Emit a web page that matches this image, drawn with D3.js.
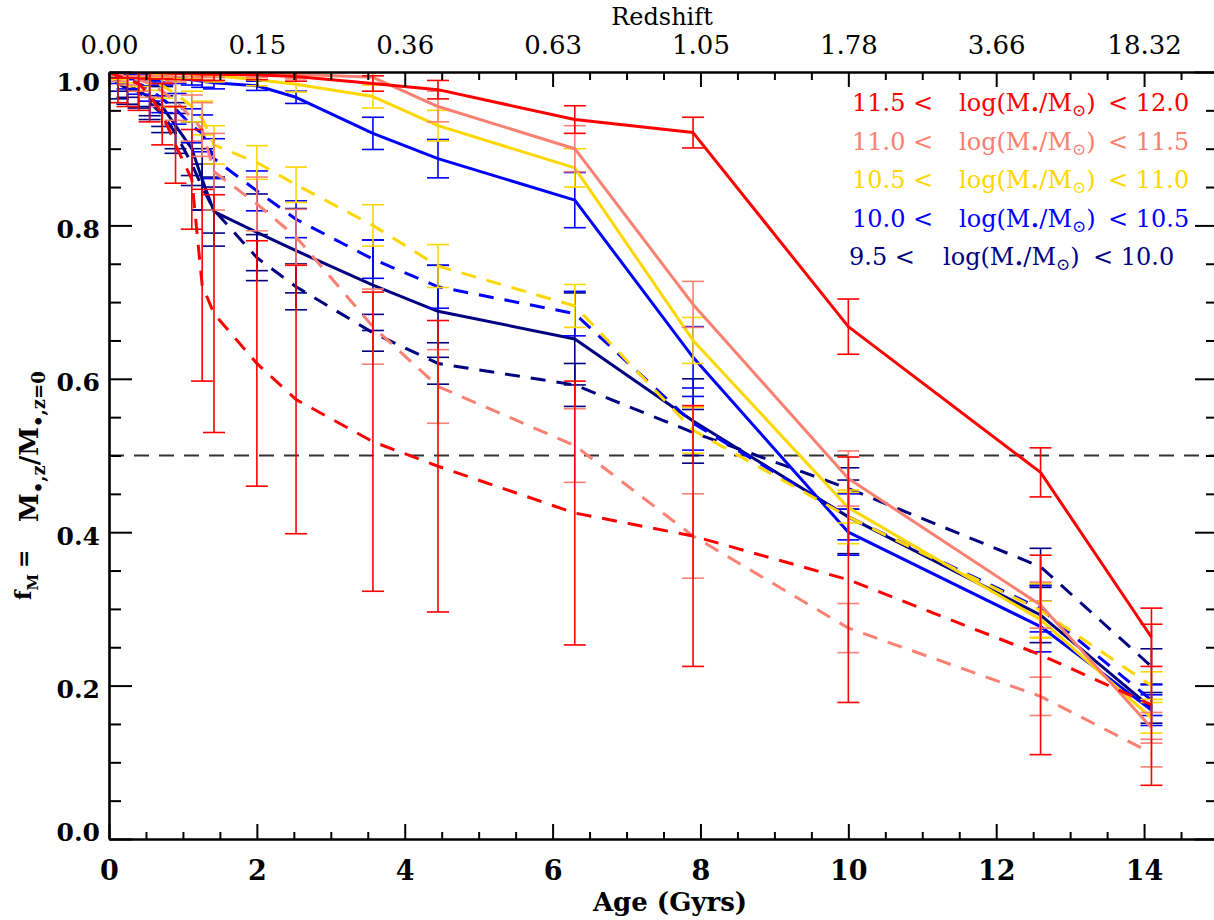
<!DOCTYPE html>
<html><head><meta charset="utf-8">
<script src="https://cdn.jsdelivr.net/npm/d3@7"></script>
<style>body{margin:0;background:#fff}</style>
</head><body>
<svg id="c" width="1214" height="920" xmlns="http://www.w3.org/2000/svg"></svg>
<script>
// ---------- data ----------
const ages = [0, 0.12, 0.25, 0.4, 0.55, 0.72, 0.9, 1.12, 1.26, 1.42, 2.0, 2.53, 3.57, 4.45, 6.3, 7.9, 10.0, 12.6, 14.1];

const ageTicks = [0, 2, 4, 6, 8, 10, 12, 14];
const redshiftLabels = ["0.00", "0.15", "0.36", "0.63", "1.05", "1.78", "3.66", "18.32"];
const fTicks = [0, 0.2, 0.4, 0.6, 0.8, 1.0];

const binLow  = ["11.5", "11.0", "10.5", "10.0", "9.5"];
const binHigh = ["12.0", "11.5", "11.0", "10.5", "10.0"];
const binColors = ["#ff0000", "#fa8072", "#ffd700", "#0000ff", "#000080"];

// 11.5 < log M < 12.0
const solid_115 = [1.0, 1.0, 1.0, 1.0, 0.999, 0.999, 0.998, 0.998, 0.997, 0.997, 0.996, 0.994, 0.985, 0.977, 0.938, 0.921, 0.668, 0.478, 0.263];
const solidErr_115 = [0, 0.008, 0.008, 0.008, 0.008, 0.008, 0.008, 0.008, 0.008, 0.008, 0.006, 0.006, 0.01, 0.012, 0.018, 0.02, 0.036, 0.032, 0.038];
const dashed_115 = [1.0, 0.995, 0.99, 0.985, 0.97, 0.945, 0.905, 0.86, 0.722, 0.685, 0.62, 0.573, 0.518, 0.486, 0.425, 0.395, 0.338, 0.24, 0.175];
const dashedErr_115 = [0, 0.035, 0.035, 0.035, 0.035, 0.04, 0.05, 0.065, 0.125, 0.155, 0.16, 0.175, 0.195, 0.19, 0.172, 0.17, 0.16, 0.13, 0.105];

// 11.0 < log M < 11.5
const solid_110 = [1.0, 1.0, 1.0, 1.0, 1.0, 0.999, 0.999, 0.999, 0.998, 0.998, 0.998, 0.997, 0.993, 0.955, 0.9, 0.697, 0.47, 0.305, 0.145];
const solidErr_110 = [0, 0.005, 0.005, 0.005, 0.005, 0.005, 0.005, 0.005, 0.005, 0.005, 0.005, 0.006, 0.008, 0.02, 0.03, 0.03, 0.036, 0.03, 0.02];
const dashed_110 = [1.0, 0.998, 0.995, 0.99, 0.985, 0.975, 0.962, 0.94, 0.925, 0.87, 0.828, 0.785, 0.668, 0.59, 0.513, 0.395, 0.275, 0.186, 0.112];
const dashedErr_110 = [0, 0.01, 0.012, 0.015, 0.018, 0.02, 0.025, 0.03, 0.035, 0.05, 0.035, 0.036, 0.049, 0.048, 0.048, 0.055, 0.032, 0.025, 0.018];

// 10.5 < log M < 11.0
const solid_105 = [1.0, 1.0, 1.0, 0.999, 0.999, 0.998, 0.998, 0.997, 0.996, 0.995, 0.99, 0.984, 0.968, 0.93, 0.875, 0.65, 0.432, 0.286, 0.158];
const solidErr_105 = [0, 0.005, 0.005, 0.005, 0.005, 0.005, 0.006, 0.006, 0.007, 0.008, 0.008, 0.01, 0.015, 0.02, 0.025, 0.03, 0.02, 0.024, 0.02];
const dashed_105 = [1.0, 0.998, 0.996, 0.993, 0.99, 0.982, 0.972, 0.955, 0.94, 0.905, 0.882, 0.853, 0.8, 0.747, 0.695, 0.533, 0.42, 0.298, 0.2];
const dashedErr_105 = [0, 0.008, 0.01, 0.012, 0.014, 0.016, 0.018, 0.02, 0.022, 0.025, 0.022, 0.023, 0.027, 0.028, 0.028, 0.03, 0.035, 0.035, 0.018];

// 10.0 < log M < 10.5
const solid_100 = [1.0, 0.998, 0.997, 0.996, 0.995, 0.993, 0.992, 0.99, 0.988, 0.986, 0.982, 0.967, 0.92, 0.887, 0.833, 0.628, 0.40, 0.277, 0.168];
const solidErr_100 = [0, 0.005, 0.005, 0.006, 0.006, 0.006, 0.007, 0.007, 0.008, 0.008, 0.006, 0.008, 0.021, 0.025, 0.036, 0.04, 0.03, 0.033, 0.02];
const dashed_100 = [1.0, 0.995, 0.99, 0.985, 0.978, 0.965, 0.952, 0.93, 0.92, 0.887, 0.845, 0.808, 0.756, 0.72, 0.685, 0.542, 0.42, 0.3, 0.181];
const dashedErr_100 = [0, 0.01, 0.012, 0.014, 0.016, 0.018, 0.02, 0.022, 0.024, 0.026, 0.026, 0.024, 0.025, 0.028, 0.029, 0.035, 0.03, 0.03, 0.02];

// 9.5 < log M < 10.0
const solid_95 = [1.0, 0.985, 0.978, 0.975, 0.967, 0.955, 0.93, 0.9, 0.86, 0.818, 0.791, 0.767, 0.722, 0.688, 0.652, 0.545, 0.42, 0.292, 0.171];
const solidErr_95 = [0, 0.02, 0.02, 0.022, 0.024, 0.026, 0.03, 0.035, 0.04, 0.045, 0.05, 0.055, 0.059, 0.06, 0.06, 0.055, 0.048, 0.036, 0.02];
const dashed_95 = [1.0, 0.99, 0.985, 0.975, 0.96, 0.945, 0.92, 0.88, 0.85, 0.82, 0.758, 0.72, 0.66, 0.62, 0.592, 0.53, 0.457, 0.355, 0.225];
const dashedErr_95 = [0, 0.015, 0.018, 0.02, 0.022, 0.024, 0.026, 0.028, 0.03, 0.03, 0.03, 0.03, 0.024, 0.027, 0.028, 0.03, 0.027, 0.024, 0.023];

const halfLevel = 0.5;

// ---------- build ----------
const bins = [
  {solid: solid_115, sErr: solidErr_115, dashed: dashed_115, dErr: dashedErr_115},
  {solid: solid_110, sErr: solidErr_110, dashed: dashed_110, dErr: dashedErr_110},
  {solid: solid_105, sErr: solidErr_105, dashed: dashed_105, dErr: dashedErr_105},
  {solid: solid_100, sErr: solidErr_100, dashed: dashed_100, dErr: dashedErr_100},
  {solid: solid_95,  sErr: solidErr_95,  dashed: dashed_95,  dErr: dashedErr_95}
].map((b, i) => Object.assign(b, {color: binColors[i], lo: binLow[i], hi: binHigh[i]}));

const svg = d3.select("#c");
svg.append("rect").attr("width", 1214).attr("height", 920).attr("fill", "#fff");

const x = d3.scaleLinear().domain([0, 15]).range([109, 1218]);
const y = d3.scaleLinear().domain([0, 1]).range([839, 72]);

const serif = "'DejaVu Serif', 'Liberation Serif', serif";

svg.append("clipPath").attr("id", "plotclip").append("rect")
  .attr("x", x(0)).attr("y", y(1)).attr("width", x(15) - x(0)).attr("height", y(0) - y(1));

const plot = svg.append("g").attr("clip-path", "url(#plotclip)");

// reference line f = 0.5
plot.append("line")
  .attr("x1", x(0)).attr("x2", x(15)).attr("y1", y(halfLevel)).attr("y2", y(halfLevel))
  .attr("stroke", "#333").attr("stroke-width", 2).attr("stroke-dasharray", "15,10");

const line = d3.line().x((d, i) => x(ages[i])).y(d => y(d));

// draw from the lowest mass bin to the highest so red ends on top
bins.slice().reverse().forEach(b => {
  const g = plot.append("g");
  [[b.dashed, b.dErr, "15,11"], [b.solid, b.sErr, null]].forEach(([vals, errs, dash]) => {
    g.append("path").datum(vals).attr("d", line)
      .attr("fill", "none").attr("stroke", b.color).attr("stroke-width", 3)
      .attr("stroke-dasharray", dash).attr("stroke-linejoin", "round");
    const eb = g.append("g").attr("stroke", b.color).attr("stroke-width", 1.6).attr("fill", "none");
    vals.forEach((v, i) => {
      const e = errs[i];
      if (!e) return;
      const px = x(ages[i]);
      eb.append("line").attr("x1", px).attr("x2", px).attr("y1", y(v - e)).attr("y2", y(v + e));
      eb.append("line").attr("x1", px - 11).attr("x2", px + 11).attr("y1", y(v - e)).attr("y2", y(v - e));
      eb.append("line").attr("x1", px - 11).attr("x2", px + 11).attr("y1", y(v + e)).attr("y2", y(v + e));
    });
  });
});

// ---------- axes ----------
const minorAge = d3.range(0, 15.01, 0.5).filter(v => v % 2 !== 0);
const minorF = d3.range(0, 1.001, 0.05).map(v => +v.toFixed(2)).filter(v => Math.round(v * 100) % 20 !== 0);

function styleAxis(g) {
  g.attr("font-family", serif);
  g.select(".domain").attr("stroke", "#000").attr("stroke-width", 2.6);
  g.selectAll(".tick line").attr("stroke", "#000").attr("stroke-width", 2);
  g.selectAll(".tick text").attr("fill", "#000");
}

// bottom
const gB = svg.append("g").attr("transform", `translate(0,${y(0)})`)
  .call(d3.axisBottom(x).tickValues(ageTicks).tickSize(-15).tickSizeOuter(0).tickPadding(22).tickFormat(d3.format("d")));
styleAxis(gB);
gB.selectAll(".tick text").attr("font-size", 27).attr("font-weight", "bold");
svg.append("g").attr("transform", `translate(0,${y(0)})`)
  .call(d3.axisBottom(x).tickValues(minorAge).tickSize(-7).tickFormat("")).call(styleAxis)
  .select(".domain").remove();

// top
const gT = svg.append("g").attr("transform", `translate(0,${y(1)})`)
  .call(d3.axisTop(x).tickValues(ageTicks).tickSize(-15).tickSizeOuter(0).tickPadding(18)
    .tickFormat((d, i) => redshiftLabels[i]));
styleAxis(gT);
gT.selectAll(".tick text").attr("font-size", 26);
svg.append("g").attr("transform", `translate(0,${y(1)})`)
  .call(d3.axisTop(x).tickValues(minorAge).tickSize(-8).tickFormat("")).call(styleAxis)
  .select(".domain").remove();

// left
const gL = svg.append("g").attr("transform", `translate(${x(0)},0)`)
  .call(d3.axisLeft(y).tickValues(fTicks).tickSize(-23).tickSizeOuter(0).tickPadding(9).tickFormat(d3.format(".1f")));
styleAxis(gL);
gL.selectAll(".tick text").attr("font-size", 25).attr("font-weight", "bold")
  .attr("dy", null)
  .attr("y", d => Math.min(840, Math.max(90, y(d) + 12)) - y(d));
svg.append("g").attr("transform", `translate(${x(0)},0)`)
  .call(d3.axisLeft(y).tickValues(minorF).tickSize(-12).tickFormat("")).call(styleAxis)
  .select(".domain").remove();

// right
const gR = svg.append("g").attr("transform", `translate(${x(15)},0)`)
  .call(d3.axisRight(y).tickValues(fTicks).tickSize(-23).tickSizeOuter(0).tickFormat(""));
styleAxis(gR);
svg.append("g").attr("transform", `translate(${x(15)},0)`)
  .call(d3.axisRight(y).tickValues(minorF).tickSize(-12).tickFormat("")).call(styleAxis)
  .select(".domain").remove();

// axis titles
svg.append("text").attr("x", 662).attr("y", 25).attr("text-anchor", "middle")
  .attr("font-family", serif).attr("font-size", 24).text("Redshift");
svg.append("text").attr("x", 670).attr("y", 911).attr("text-anchor", "middle")
  .attr("font-family", serif).attr("font-size", 26).attr("font-weight", "bold").text("Age (Gyrs)");

// y title (rotated), two parts
const yt1 = svg.append("text").attr("transform", "translate(31,600) rotate(-90)")
  .attr("font-family", serif).attr("font-weight", "bold").attr("font-size", 22);
yt1.append("tspan").text("f");
yt1.append("tspan").attr("font-size", 15).attr("dy", 7).text("M");
yt1.append("tspan").attr("dy", -7).attr("dx", 6).text("=");

const yt2 = svg.append("text").attr("transform", "translate(38,522) rotate(-90)")
  .attr("font-family", serif).attr("font-weight", "bold").attr("font-size", 26);
yt2.append("tspan").text("M");
yt2.append("tspan").attr("font-size", 18).attr("dy", 7).text("•,z");
yt2.append("tspan").attr("dy", -7).text("/M");
yt2.append("tspan").attr("font-size", 18).attr("dy", 7).text("•,z=0");

// ---------- legend ----------
const legendY = [111, 150, 188, 227, 265];
const legendX = [[852, 959, 1108], [852, 959, 1108], [852, 959, 1108], [852, 959, 1108], [849, 943, 1093]];
bins.forEach((b, i) => {
  const g = svg.append("g").attr("fill", b.color).attr("font-family", serif).attr("font-size", 24);
  g.append("text").attr("x", legendX[i][0]).attr("y", legendY[i]).text(b.lo + " <");
  const t = g.append("text").attr("x", legendX[i][1]).attr("y", legendY[i]);
  t.append("tspan").text("log(M");
  t.append("tspan").attr("font-size", 15).attr("dy", 4).text("•");
  t.append("tspan").attr("dy", -4).text("/M");
  t.append("tspan").attr("font-size", 17).attr("dy", 5).text("⊙");
  t.append("tspan").attr("dy", -5).text(")");
  g.append("text").attr("x", legendX[i][2]).attr("y", legendY[i]).text("< " + b.hi);
});
</script>
</body></html>
